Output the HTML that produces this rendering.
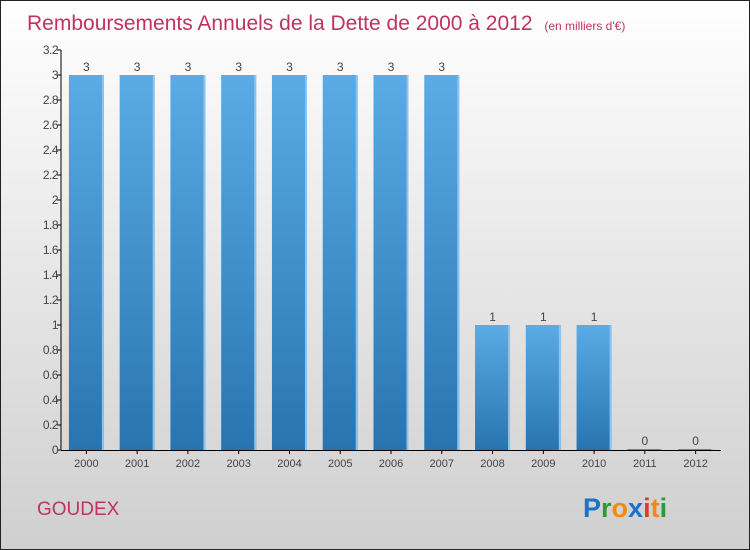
<!DOCTYPE html>
<html><head><meta charset="utf-8"><style>
body{margin:0}
#c{position:relative;width:748px;height:548px;border:1px solid #222;background:linear-gradient(#fff,#f0f0f0 30%,#cfcfcf);overflow:hidden;font-family:"Liberation Sans",sans-serif}
</style></head><body>
<div id="c">
<svg id="s" width="748" height="548">
<defs><linearGradient id="g" x1="0" y1="0" x2="0" y2="1"><stop offset="0" stop-color="#5aabe6"/><stop offset="1" stop-color="#2874b1"/></linearGradient></defs>
<text x="26" y="29" font-size="21" fill="#c0335f">Remboursements Annuels de la Dette de 2000 à 2012 <tspan font-size="12" dx="6">(en milliers d'€)</tspan></text>
<text x="36" y="514" font-size="19" fill="#c0335f">GOUDEX</text>
<g font-size="27" font-weight="bold"><text x="582" y="516"><tspan fill="#1a73c9">P</tspan><tspan fill="#2a9a3a">r</tspan><tspan fill="#f08a10">o</tspan><tspan fill="#1a73c9">x</tspan><tspan fill="#e03a2a">i</tspan><tspan fill="#f08a10">t</tspan><tspan fill="#2a9a3a">i</tspan></text></g>
<g id="plot"></g>
</svg></div>
<script>
const years=["2000","2001","2002","2003","2004","2005","2006","2007","2008","2009","2010","2011","2012"];
const values=[3,3,3,3,3,3,3,3,1,1,1,0,0];
const labels=["3","3","3","3","3","3","3","3","1","1","1","0","0"];
const ticks=[0,0.2,0.4,0.6,0.8,1,1.2,1.4,1.6,1.8,2,2.2,2.4,2.6,2.8,3,3.2];
const tickLabels=["0","0.2","0.4","0.6","0.8","1","1.2","1.4","1.6","1.8","2","2.2","2.4","2.6","2.8","3","3.2"];
const X0=60,X1=720,Y0=449,Y1=49,YMAX=3.2;
const y=v=>Y0-(v/YMAX)*(Y0-Y1);
const band=(X1-X0)/years.length;
const x=i=>X0+band*(i+0.5);
const ns="http://www.w3.org/2000/svg",p=document.getElementById('plot');
function mk(t,a){const e=document.createElementNS(ns,t);for(const k in a)e.setAttribute(k,a[k]);p.appendChild(e);return e;}
values.forEach((v,i)=>{
 const h=Math.max(Y0-y(v),1);
 const r=mk('rect',{x:x(i)-17.5,y:Y0-h,width:35,height:h,fill:'url(#g)'});
 
 
 const e=mk('rect',{x:x(i)+15.5,y:Y0-h,width:2,height:h,fill:'#8cc4ee'});
 
 
 const t=mk('text',{x:x(i),y:Y0-h-4,'font-size':12,fill:'#444','text-anchor':'middle'});t.textContent=labels[i];
 
 
 const xl=mk('text',{x:x(i),y:466,'font-size':11,fill:'#444','text-anchor':'middle'});xl.textContent=years[i];
 
 
 const xt=mk('line',{x1:x(i),x2:x(i),y1:Y0,y2:Y0+4,stroke:'#000'});
 
 
});
ticks.forEach((v,i)=>{
 const l=mk('line',{x1:X0-4,x2:X0,y1:y(v),y2:y(v),stroke:'#000'});
 
 
 const t=mk('text',{x:X0-3,y:y(v)+4,'font-size':12,fill:'#444','text-anchor':'end','letter-spacing':'-0.5'});t.textContent=tickLabels[i];
 
 
});
const ya=mk('line',{x1:X0,x2:X0,y1:Y1,y2:Y0,stroke:'#000'});


const xa=mk('line',{x1:X0,x2:X1,y1:Y0+0.5,y2:Y0+0.5,stroke:'#000'});


</script>
</body></html>
